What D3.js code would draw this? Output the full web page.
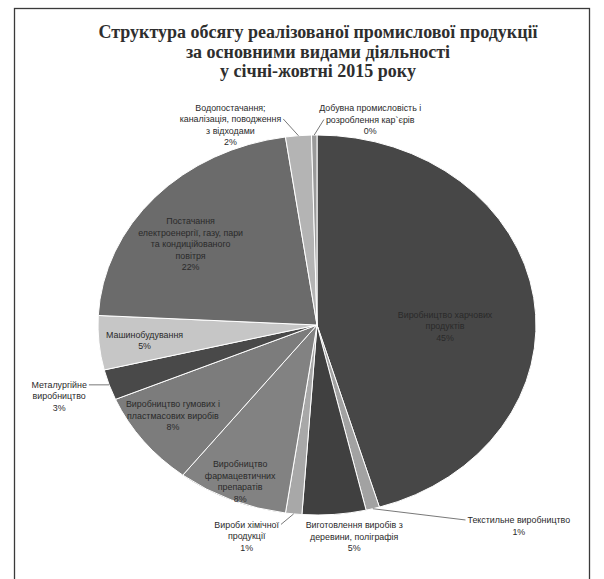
<!DOCTYPE html>
<html lang="uk">
<head>
  <meta charset="UTF-8">
  <title>Структура обсягу реалізованої промислової продукції</title>
  <script src="https://d3js.org/d3.v7.min.js"></script>
  <style>
    body { margin: 0; background: white; }
    svg { display: block; }
    .title { font-family: "Liberation Serif", "Times New Roman", serif; font-size: 18px; font-weight: bold; fill: #2e2e2e; }
    .lbl { font-family: "Liberation Sans", Arial, sans-serif; font-size: 8.9px; fill: #2a2a2a; }
    .leader { stroke: #555; stroke-width: 0.8; fill: none; }
  </style>
</head>
<body>
  <svg width="604" height="579"></svg>

  <script>
    // slices go clockwise from 12 o'clock, same order as the source chart
    const categories = [
      "Виробництво харчових\nпродуктів",
      "Текстильне виробництво",
      "Виготовлення виробів з\nдеревини, поліграфія",
      "Вироби хімічної\nпродукції",
      "Виробництво\nфармацевтичних\nпрепаратів",
      "Виробництво гумових і\nпластмасових виробів",
      "Металургійне\nвиробництво",
      "Машинобудування",
      "Постачання\nелектроенергії, газу, пари\nта кондиційованого\nповітря",
      "Водопостачання;\nканалізація, поводження\nз відходами",
      "Добувна промисловість і\nрозроблення кар`єрів"
    ];
    const values = [45.4, 1.0, 4.7, 1.2, 8.2, 8.1, 2.6, 4.6, 21.9, 1.9, 0.4];
    const colors = ["#474747", "#a2a2a2", "#404040", "#a8a8a8", "#828282", "#7c7c7c",
                    "#494949", "#c6c6c6", "#6b6b6b", "#b4b4b4", "#9a9a9a"];
    const titleLines = [
      "Структура обсягу реалізованої промислової продукції",
      "за основними видами діяльності",
      "у січні-жовтні 2015 року"
    ];

    // label placement: k = radius fraction on the slice mid-angle, then a nudge;
    // leader = which label line the connector goes to and from which side
    const labelLayout = [
      { k: 0.6,  dx: -2,   dy: 17.5 },
      { k: 1,    dx: 146,  dy: 17,  leader: { line: 0, side: "left" } },
      { k: 1,    dx: 20,   dy: 22 },
      { k: 1,    dx: -47,  dy: 22,  leader: { line: 0, side: "right" } },
      { k: 0.85, dx: -4,   dy: 8 },
      { k: 0.75, dx: -14,  dy: 3.5 },
      { k: 1,    dx: -50,  dy: 11.5, leader: { line: 0, side: "right" } },
      { k: 0.8,  dx: 2,    dy: 1 },
      { k: 0.7,  dx: -13,  dy: 8.5 },
      { k: 1,    dx: -68,  dy: -11, leader: { line: 1, side: "right" } },
      { k: 1,    dx: 56,   dy: -15.5, leader: { line: 1, side: "left" } }
    ];

    const svg = d3.select("svg");
    const cx = 317, cy = 325, rx = 219, ry = 190;
    const lineH = 11.5;

    // frame
    svg.append("rect")
      .attr("x", 14.5).attr("y", 8.5)
      .attr("width", 575).attr("height", 590)
      .attr("fill", "none").attr("stroke", "#3a3a3a").attr("stroke-width", 1.3);

    svg.append("g").selectAll("text")
      .data(titleLines)
      .join("text")
      .attr("class", "title")
      .attr("x", 318)
      .attr("y", (d, i) => 38 + i * 19.5)
      .attr("text-anchor", "middle")
      .text(d => d);

    const total = d3.sum(values);
    const data = categories.map((c, i) => ({ name: c, value: values[i], color: colors[i], layout: labelLayout[i] }));

    const pie = d3.pie().value(d => d.value).sort(null);
    const arcs = pie(data);
    const arc = d3.arc().innerRadius(0).outerRadius(rx);

    // the source pie is a bit squashed vertically
    svg.append("g")
      .attr("transform", `translate(${cx},${cy}) scale(1,${ry / rx})`)
      .selectAll("path")
      .data(arcs)
      .join("path")
      .attr("d", arc)
      .attr("fill", d => d.data.color)
      .attr("stroke", "white")
      .attr("stroke-width", 1)
      .attr("vector-effect", "non-scaling-stroke");

    const polar = (a, k) => [cx + rx * k * Math.sin(a), cy - ry * k * Math.cos(a)];

    const labels = svg.append("g");
    arcs.forEach(d => {
      const L = d.data.layout;
      const mid = (d.startAngle + d.endAngle) / 2;
      const [px, py] = polar(mid, L.k);
      const x = px + L.dx, y = py + L.dy;
      const lines = d.data.name.split("\n").concat(Math.round(d.value / total * 100) + "%");
      const top = y - (lines.length - 1) * lineH / 2;

      const t = labels.append("g");
      const texts = t.selectAll("text")
        .data(lines)
        .join("text")
        .attr("class", "lbl")
        .attr("x", x)
        .attr("y", (s, i) => top + i * lineH)
        .attr("dy", "0.35em")
        .attr("text-anchor", "middle")
        .text(s => s);

      if (L.leader) {
        const node = texts.nodes()[L.leader.line];
        const w = node.getComputedTextLength();
        const ly = top + L.leader.line * lineH;
        const lx = L.leader.side === "left" ? x - w / 2 - 2 : x + w / 2 + 2;
        const [ex, ey] = polar(mid, 1);
        labels.append("path")
          .attr("class", "leader")
          .attr("d", d3.line()([[ex, ey], [lx, ly]]));
      }
    });
  </script>
</body>
</html>
